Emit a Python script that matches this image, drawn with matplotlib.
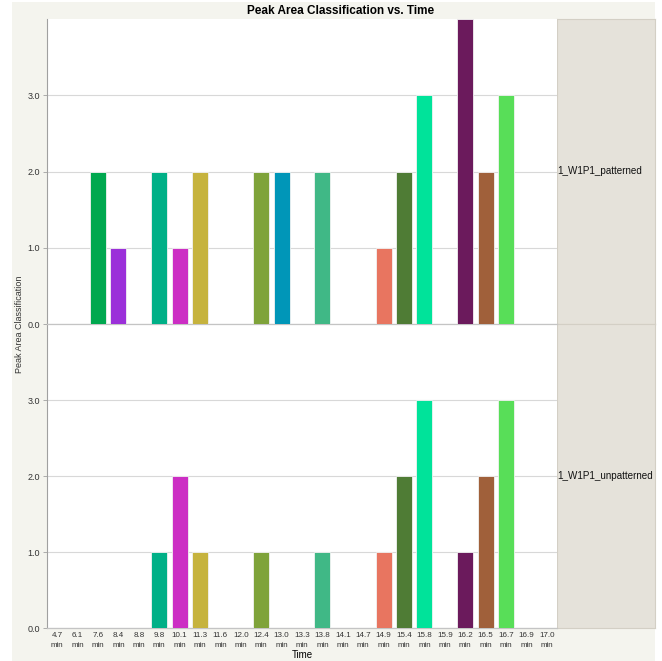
import matplotlib
matplotlib.use("Agg")
import matplotlib.pyplot as plt
from matplotlib.patches import Rectangle

plt.rcParams['font.family'] = ['Liberation Sans', 'DejaVu Sans']

# retention times (categories on the x axis)
times = ["4.7", "6.1", "7.6", "8.4", "8.8", "9.8", "10.1", "11.3", "11.6", "12.0",
         "12.4", "13.0", "13.3", "13.8", "14.1", "14.7", "14.9", "15.4", "15.8",
         "15.9", "16.2", "16.5", "16.7", "16.9", "17.0"]
patterned = [0, 0, 2, 1, 0, 2, 1, 2, 0, 0, 2, 2, 0, 2, 0, 0, 1, 2, 3, 0, 4, 2, 3, 0, 0]
unpatterned = [0, 0, 0, 0, 0, 1, 2, 1, 0, 0, 1, 0, 0, 1, 0, 0, 1, 2, 3, 0, 1, 2, 3, 0, 0]
bar_colors = ["#888888", "#888888", "#00a84f", "#9b30d9", "#888888", "#00b087",
              "#cc2ec4", "#c6b33e", "#888888", "#888888", "#7fa33a", "#0096b8",
              "#888888", "#40b886", "#888888", "#888888", "#e87560", "#4f7c35",
              "#00e39a", "#888888", "#6b1a5c", "#a0603a", "#58de58", "#888888", "#888888"]
groups = ["1_W1P1_patterned", "1_W1P1_unpatterned"]
yticks = [0, 1, 2, 3]

W, H = 662, 661
fig = plt.figure(figsize=(W / 100, H / 100), dpi=100)
fig.patch.set_facecolor("white")
# light panel behind the whole chart
fig.patches.append(Rectangle((12 / W, 0), (655 - 12) / W, 1 - 2 / H,
                             transform=fig.transFigure, facecolor="#f4f4ee",
                             edgecolor="none", zorder=-10))

left, right = 47 / W, 557 / W
strip_r = 655 / W
panel_tops = [19, 324]
panel_bots = [324, 628]

fig.text(341 / W, 1 - 11 / H, "Peak Area Classification vs. Time",
         ha="center", va="center", fontsize=8.5, fontweight="bold")

xs = list(range(len(times)))
for i, (vals, name) in enumerate(zip([patterned, unpatterned], groups)):
    t, b = panel_tops[i], panel_bots[i]
    ax = fig.add_axes([left, 1 - b / H, right - left, (b - t) / H], zorder=2 - i)
    ax.set_facecolor("white")
    # only categories with a non-zero classification get a visible bar
    idx = [k for k in xs if vals[k] > 0]
    ax.bar(idx, [vals[k] for k in idx], width=0.78,
           color=[bar_colors[k] for k in idx], edgecolor="#f2f2f2",
           linewidth=0.6, zorder=3)
    ax.set_xlim(-0.5, len(times) - 0.5)
    ax.set_ylim(0, 4)
    ax.set_yticks(yticks)
    ax.set_yticklabels([f"{v:.1f}" for v in yticks], fontsize=6.5, color="#333333")
    ax.yaxis.grid(True, color="#d8d8d8", linewidth=0.8, zorder=0)
    ax.set_axisbelow(True)
    for s in ["top", "right"]:
        ax.spines[s].set_visible(False)
    ax.spines["left"].set_color("#a0a0a0")
    ax.spines["bottom"].set_color("#c4c4c4")
    ax.spines["bottom"].set_linewidth(0.9)
    ax.tick_params(axis="y", length=3, width=0.6, color="#a0a0a0", pad=2)
    if i == 1:
        ax.set_xticks(xs)
        ax.set_xticklabels([f"{tm}\nmin" for tm in times], fontsize=5.8,
                           color="#333333", linespacing=1.5)
        ax.tick_params(axis="x", length=0, pad=3)
        ax.set_xlabel("Time", fontsize=7, labelpad=1)
    else:
        ax.set_xticks([])

    # group label strip on the right
    sax = fig.add_axes([right, 1 - b / H, strip_r - right, (b - t) / H])
    sax.set_facecolor("#e5e2da")
    sax.set_xticks([])
    sax.set_yticks([])
    for s in sax.spines.values():
        s.set_color("#d3cfc5")
    sax.text(0.0, 0.5, name, transform=sax.transAxes, ha="left", va="center",
             fontsize=7.1, color="#111111")

fig.text(20 / W, 1 - 324 / H, "Peak Area Classification", rotation=90,
         ha="center", va="center", fontsize=6.5, color="#333333")

fig.savefig("out.png", dpi=100)
